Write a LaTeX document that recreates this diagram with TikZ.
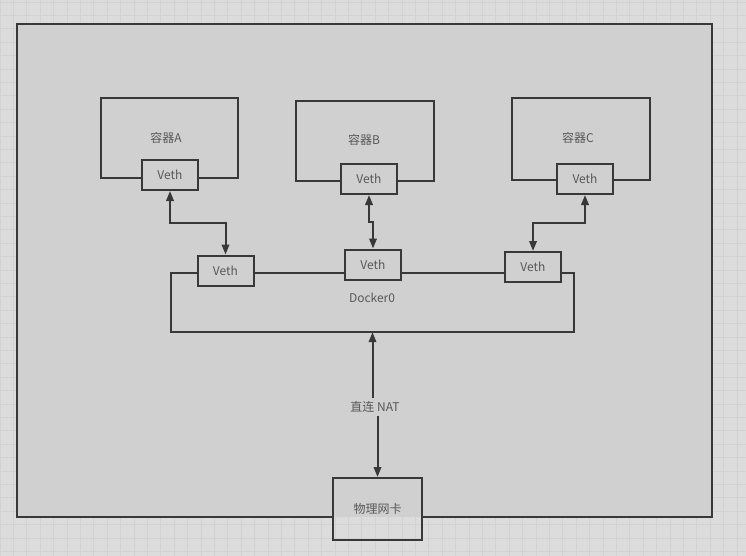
\documentclass[tikz,border=0pt]{standalone}
\usepackage{fontspec}
\setmainfont{Noto Sans CJK SC}
\usetikzlibrary{arrows.meta,calc}
\definecolor{bgc}{HTML}{DCDCDC}
\definecolor{gridc}{HTML}{D2D2D2}
\definecolor{mainc}{HTML}{D0D0D0}
\definecolor{linec}{HTML}{383838}
\definecolor{textc}{HTML}{585858}
\tikzset{
  box/.style={draw=linec, line width=2pt, minimum width=#1, inner sep=0pt},
  vethbox/.style={draw=linec, fill=mainc, line width=2pt, minimum width=56pt, minimum height=30pt, inner sep=0pt, text=textc},
  lbl/.style={text=textc, inner sep=0pt},
  wire/.style={draw=linec, line width=2pt},
  tip/.style={-{Triangle[length=10pt,width=7.5pt]}},
  tips/.style={{Triangle[length=10pt,width=7.5pt]}-{Triangle[length=10pt,width=7.5pt]}},
}
\begin{document}
\begin{tikzpicture}[x=1pt,y=-1pt,font=\fontsize{12}{14}\selectfont]
\useasboundingbox (0,0) rectangle (746,556);
\fill[bgc] (0,0) rectangle (746,556);
\foreach \i in {0,...,55} {\draw[gridc, line width=0.8pt] ({13.4*\i},0) -- ({13.4*\i},556);}
\foreach \j in {0,...,41} {\draw[gridc, line width=0.8pt] (0,{2+13.4*\j}) -- (746,{2+13.4*\j});}
% main frame
\node[fill=mainc, minimum width=695pt, minimum height=492pt, inner sep=0pt] (main) at (364.5,270.5) {};
% physical NIC
\node[box=89pt, minimum height=62pt, text=textc] (nic) at (377.5,509) {物理网卡};
\draw[wire] (nic.west |- main.south) -- (main.south west) -- (main.north west) -- (main.north east) -- (main.south east) -- (nic.east |- main.south);
% containers
\node[box=137pt, minimum height=80pt] (ca) at (169.5,138) {};
\node[lbl] (la) at (166,138) {容器A};
\node[box=138pt, minimum height=79pt] (cb) at (365,141) {};
\node[lbl] (lb) at (364,140) {容器B};
\node[box=138pt, minimum height=82pt] (cc) at (581,139) {};
\node[lbl] (lc) at (578,138) {容器C};
\node[vethbox] (va) at (170,175) {Veth};
\node[vethbox] (vb) at (369,179) {Veth};
\node[vethbox] (vc) at (585,179) {Veth};
% docker0
\node[minimum width=403pt, minimum height=59pt, inner sep=0pt] (dk) at (372.5,302.5) {};
\node[lbl] (dkl) at (372,298) {Docker0};
\node[vethbox] (v1) at (225.5,270.5) {Veth};
\node[vethbox] (v2) at (373,264.5) {Veth};
\node[vethbox] (v3) at (533,267) {Veth};
\draw[wire] (v1.west |- dk.north) -- (dk.north west) -- (dk.south west) -- (dk.south east) -- (dk.north east) -- (v3.east |- dk.north);
\draw[wire] (v1.east |- dk.north) -- (v2.west |- dk.north);
\draw[wire] (v2.east |- dk.north) -- (v3.west |- dk.north);
% veth links
\coordinate (ja) at (0,223);
\coordinate (jb) at (0,221.5);
\draw[wire, tips] (va.south) -- (va.south |- ja) -- (v1.north |- ja) -- (v1.north);
\draw[wire, tips] (vb.south) -- (vb.south |- jb) -- (v2.north |- jb) -- (v2.north);
\draw[wire, tips] (vc.south) -- (vc.south |- ja) -- (v3.north |- ja) -- (v3.north);
% NAT
\node[text=textc, inner sep=0pt, minimum height=17pt] (nat) at (375,407) {直连 NAT};
\draw[wire, tip] (nat.north -| dk.south) -- (dk.south);
\draw[wire, tip] (nat.south -| nic.north) -- (nic.north);
\end{tikzpicture}
\end{document}
